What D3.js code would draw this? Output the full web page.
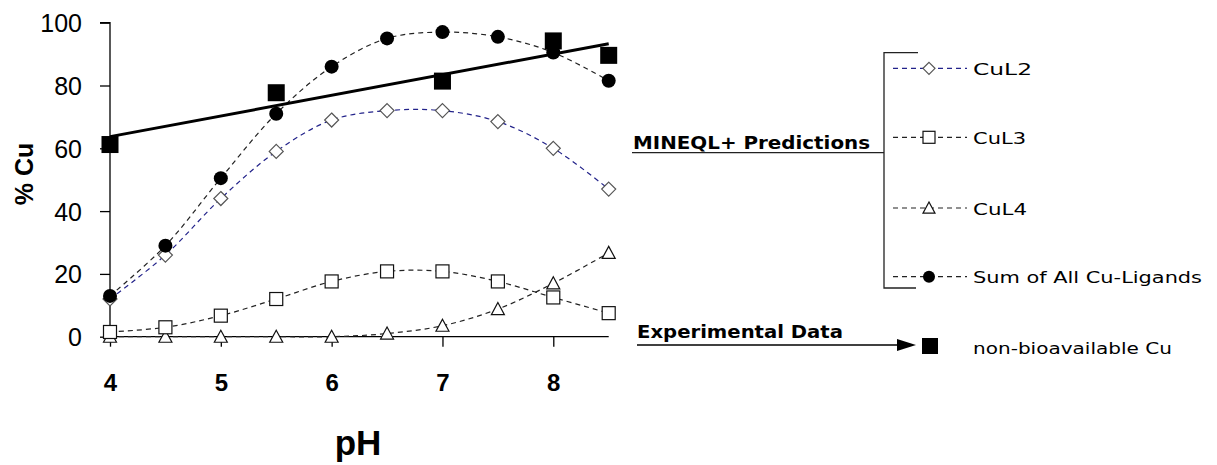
<!DOCTYPE html>
<html>
<head>
<meta charset="utf-8">
<script src="https://cdn.jsdelivr.net/npm/d3@7"></script>
<style>
  html, body { margin: 0; padding: 0; background: #fff; }
  svg { display: block; }
</style>
</head>
<body>
<svg id="chart" width="1217" height="465"></svg>
<script>
// pH values for the MINEQL+ model runs
const phModel = [4, 4.5, 5, 5.5, 6, 6.5, 7, 7.5, 8, 8.5];
// predicted % of Cu bound in each complex
const cuL2 = [12, 26, 44, 59, 69, 72, 72, 68.5, 60, 47];
const cuL3 = [1.5, 3, 6.7, 12, 17.6, 20.8, 20.8, 17.6, 12.5, 7.5];
const cuL4 = [0, 0, 0, 0, 0, 1, 3.5, 8.8, 17, 26.7];
const cuSum = [13, 29, 50.5, 71, 86, 95, 97, 95.5, 90.5, 81.5];
// measured non-bioavailable Cu
const phExp = [4, 5.5, 7, 8, 8.5];
const nonBio = [61.2, 77.7, 81.4, 94.2, 89.6];
// axis ticks
const xTicks = [4, 5, 6, 7, 8];
const yTicks = [0, 20, 40, 60, 80, 100];
const legendLabels = ["CuL2", "CuL3", "CuL4", "Sum of All Cu-Ligands"];

const svg = d3.select("#chart");
const x = d3.scaleLinear().domain([4, 8.5]).range([110, 608.7]);
const y = d3.scaleLinear().domain([0, 100]).range([336.7, 22.7]);

const axisFont = "'Liberation Sans', Arial, sans-serif";
const pixFont = "'DejaVu Sans', Verdana, sans-serif";

// ---- axes ----
const yAxis = svg.append("g").attr("transform", `translate(${x(4)},0)`)
  .call(d3.axisLeft(y).tickValues(yTicks).tickSize(10).tickPadding(4));
yAxis.select(".domain").attr("d", `M-10,${y(100)}H0V${y(0)}`).attr("stroke", "#000").attr("stroke-width", 1.3);
yAxis.selectAll(".tick line").attr("stroke", "#000").attr("stroke-width", 1.3);
yAxis.selectAll(".tick text").attr("font-family", axisFont).attr("font-size", 25).attr("fill", "#000")
  .attr("dy", "0.36em").attr("x", -28);

const xAxis = svg.append("g").attr("transform", `translate(0,${y(0)})`)
  .call(d3.axisBottom(x).tickValues(xTicks).tickSize(10).tickPadding(16).tickFormat(d3.format("d")));
xAxis.select(".domain").attr("d", `M${x(4)},0H${x(8.5)}`).attr("stroke", "#000").attr("stroke-width", 1.3);
xAxis.selectAll(".tick line").attr("stroke", "#000").attr("stroke-width", 1.3);
xAxis.selectAll(".tick text").attr("font-family", axisFont).attr("font-size", 24).attr("font-weight", "bold")
  .attr("fill", "#000").attr("dy", "0.71em").attr("y", 37);

svg.append("text").attr("x", 358).attr("y", 455).attr("text-anchor", "middle")
  .attr("font-family", axisFont).attr("font-size", 35).attr("font-weight", "bold").text("pH");
svg.append("text").attr("transform", "translate(33,174) rotate(-90)").attr("text-anchor", "middle")
  .attr("font-family", axisFont).attr("font-size", 25).attr("font-weight", "bold").text("% Cu");

// ---- markers ----
function marker(g, type, size) {
  if (type === "diamond") {
    const s = size / 2;
    g.append("path").attr("d", `M0,${-s}L${s},0L0,${s}L${-s},0Z`)
      .attr("fill", "#fff").attr("stroke", "#555").attr("stroke-width", 1.2);
  } else if (type === "square") {
    g.append("rect").attr("x", -size / 2).attr("y", -size / 2).attr("width", size).attr("height", size)
      .attr("fill", "#fff").attr("stroke", "#111").attr("stroke-width", 1.2);
  } else if (type === "triangle") {
    const s = size / 2;
    g.append("path").attr("d", `M0,${-s}L${s},${s * 0.85}L${-s},${s * 0.85}Z`)
      .attr("fill", "#fff").attr("stroke", "#111").attr("stroke-width", 1.2);
  } else if (type === "circle") {
    g.append("circle").attr("r", size / 2).attr("fill", "#000");
  } else if (type === "fsquare") {
    g.append("rect").attr("x", -size / 2).attr("y", -size / 2).attr("width", size).attr("height", size)
      .attr("fill", "#000");
  }
}

const series = [
  { values: cuL4, color: "#222", type: "triangle", size: 13 },
  { values: cuL3, color: "#222", type: "square", size: 13 },
  { values: cuL2, color: "#22228a", type: "diamond", size: 14 },
  { values: cuSum, color: "#222", type: "circle", size: 14 }
];

const smooth = d3.line().x(d => x(d[0])).y(d => y(d[1])).curve(d3.curveCatmullRom.alpha(0.5));

series.forEach(s => {
  const pts = phModel.map((p, i) => [p, s.values[i]]);
  svg.append("path").attr("d", smooth(pts)).attr("fill", "none")
    .attr("stroke", s.color).attr("stroke-width", 1.2).attr("stroke-dasharray", "5,4");
});
series.forEach(s => {
  phModel.forEach((p, i) => {
    marker(svg.append("g").attr("transform", `translate(${x(p)},${y(s.values[i])})`), s.type, s.size);
  });
});

// ---- experimental data with least-squares trend line ----
const mx = d3.mean(phExp), my = d3.mean(nonBio);
const slope = d3.sum(phExp, (p, i) => (p - mx) * (nonBio[i] - my)) / d3.sum(phExp, p => (p - mx) ** 2);
const fit = p => my + slope * (p - mx);
svg.append("line").attr("x1", x(4)).attr("y1", y(fit(4))).attr("x2", x(8.5)).attr("y2", y(fit(8.5)))
  .attr("stroke", "#000").attr("stroke-width", 3);
phExp.forEach((p, i) => {
  marker(svg.append("g").attr("transform", `translate(${x(p)},${y(nonBio[i])})`), "fsquare", 17);
});

// ---- legend ----
const bx = 884, bTop = 52.7, bBot = 288;
svg.append("path").attr("d", `M918,${bTop}H${bx}V${bBot}H916`).attr("fill", "none")
  .attr("stroke", "#222").attr("stroke-width", 1.3);
svg.append("line").attr("x1", 632).attr("x2", bx).attr("y1", 152.7).attr("y2", 152.7)
  .attr("stroke", "#222").attr("stroke-width", 1.3);
svg.append("text").attr("x", 633).attr("y", 149).attr("font-family", pixFont).attr("font-weight", "bold")
  .attr("font-size", 18).attr("textLength", 237).attr("lengthAdjust", "spacingAndGlyphs").text("MINEQL+ Predictions");

const legendY = [68.3, 137.3, 208, 276.7];
const legendW = [59, 53, 54, 229];
// legend rows follow legendLabels order
const legendSeries = [series[2], series[1], series[0], series[3]];
legendSeries.forEach((s, i) => {
  const ly = legendY[i];
  svg.append("line").attr("x1", 893).attr("x2", 967).attr("y1", ly).attr("y2", ly)
    .attr("stroke", s.color).attr("stroke-width", 1.2).attr("stroke-dasharray", "5,4");
  marker(svg.append("g").attr("transform", `translate(929,${ly})`), s.type, 12);
  svg.append("text").attr("x", 973).attr("y", ly + 6.5).attr("font-family", pixFont).attr("font-size", 16)
    .attr("textLength", legendW[i]).attr("lengthAdjust", "spacingAndGlyphs").text(legendLabels[i]);
});

svg.append("text").attr("x", 637).attr("y", 338).attr("font-family", pixFont).attr("font-weight", "bold")
  .attr("font-size", 18).attr("textLength", 206).attr("lengthAdjust", "spacingAndGlyphs").text("Experimental Data");
svg.append("line").attr("x1", 637).attr("x2", 900).attr("y1", 345).attr("y2", 345)
  .attr("stroke", "#000").attr("stroke-width", 1.5);
svg.append("path").attr("d", "M897,339L916,345L897,351Z").attr("fill", "#000");
marker(svg.append("g").attr("transform", "translate(930,346)"), "fsquare", 16);
svg.append("text").attr("x", 973).attr("y", 354).attr("font-family", pixFont).attr("font-size", 15)
  .attr("textLength", 199).attr("lengthAdjust", "spacingAndGlyphs").text("non-bioavailable Cu");
</script>
</body>
</html>
